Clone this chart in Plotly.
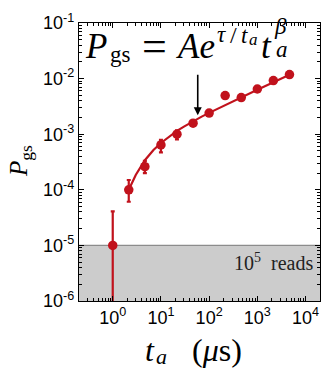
import plotly.graph_objects as go
import math

# measured data points
t_data = [1, 2.15, 4.64, 10, 21.5, 46.4, 100, 215, 464, 1000, 2150, 4640]
p_data = [1.0e-5, 1.0e-4, 2.6e-4, 6.4e-4, 1.0e-3, 1.58e-3, 2.4e-3, 4.95e-3, 4.55e-3, 6.5e-3, 9.2e-3, 1.18e-2]
err_plus = [3.1e-5, 5.0e-5, 7.0e-5, 1.5e-4, 1.7e-4, 1.5e-4, 2.2e-4, 4.5e-4, 4.2e-4, 6.0e-4, 8.5e-4, 1.1e-3]
err_minus = [0.9999e-5, 3.9e-5, 6.0e-5, 1.7e-4, 1.9e-4, 1.5e-4, 2.2e-4, 4.5e-4, 4.2e-4, 6.0e-4, 8.5e-4, 1.1e-3]

# fit curve
t_fit = [2.15, 3, 4.64, 7, 10, 15, 21.5, 30, 46, 70, 100, 200, 500, 1000, 2000, 4640]
p_fit = [1.0e-4, 1.85e-4, 3.4e-4, 5.2e-4, 6.95e-4, 9.2e-4, 1.15e-3, 1.37e-3, 1.70e-3,
         2.07e-3, 2.42e-3, 3.25e-3, 4.75e-3, 6.3e-3, 8.3e-3, 1.17e-2]

x_tickvals = [1, 10, 100, 1000, 10000]
x_ticktext = ["10<sup>0</sup>", "10<sup>1</sup>", "10<sup>2</sup>", "10<sup>3</sup>", "10<sup>4</sup>"]
y_tickvals = [1e-6, 1e-5, 1e-4, 1e-3, 1e-2, 1e-1]
y_ticktext = ["10<sup>-6</sup>", "10<sup>-5</sup>", "10<sup>-4</sup>", "10<sup>-3</sup>", "10<sup>-2</sup>", "10<sup>-1</sup>"]

threshold = 1e-5
red = "#c1121c"
serif = "Liberation Serif"

W, H = 324, 369
ML, MR, MT, MB = 79, 4, 23, 68
PW, PH = W - ML - MR, H - MT - MB

fig = go.Figure()
fig.add_trace(go.Scatter(x=t_fit, y=p_fit, mode="lines",
                         line=dict(color=red, width=2.2), showlegend=False))
fig.add_trace(go.Scatter(x=t_data, y=p_data, mode="markers",
                         marker=dict(color=red, size=9.5),
                         error_y=dict(type="data", symmetric=False, array=err_plus,
                                      arrayminus=err_minus, color=red, thickness=2.2, width=2),
                         showlegend=False))

fig.add_shape(type="rect", xref="paper", yref="y", x0=0, x1=1, y0=1e-7, y1=threshold,
              fillcolor="#cccccc", line=dict(width=0), layer="below")
fig.add_shape(type="line", xref="paper", yref="y", x0=0, x1=1, y0=threshold, y1=threshold,
              line=dict(color="#8c8c8c", width=1.2), layer="below")

axis_common = dict(type="log", showgrid=False, zeroline=False, showline=True,
                   linecolor="black", linewidth=1.2, mirror="allticks",
                   ticks="inside", ticklen=5, tickcolor="black",
                   tickfont=dict(family="Liberation Sans", size=18, color="black"),
                   minor=dict(ticks="inside", ticklen=2.5, tickcolor="black", dtick="D1", showgrid=False))

fig.update_xaxes(range=[-0.7, 4.3], tickvals=x_tickvals, ticktext=x_ticktext, **axis_common)
fig.update_yaxes(range=[-6, -1], tickvals=y_tickvals, ticktext=y_ticktext, **axis_common)

# arrow
fig.add_annotation(x=math.log10(58), y=-2.66, xref="x", yref="y", text="", showarrow=True,
                   ax=0, ay=-42, arrowhead=2, arrowsize=1, arrowwidth=1.6, arrowcolor="black")


def px_text(text, left, baseline, size, anchor="left", color="black", angle=0):
    """place a plain text so that its left edge / baseline land on given pixels"""
    cy = baseline - 0.3375 * size
    fig.add_annotation(xref="paper", yref="paper",
                       x=(left - ML) / PW, y=(H - MB - cy) / PH,
                       xanchor=anchor, yanchor="middle", text=text, showarrow=False,
                       borderpad=0, borderwidth=0, textangle=angle,
                       font=dict(family=serif, size=size, color=color))


# formula  P_gs = A e^{tau/t_a} t_a^beta
px_text("<i>P</i>", 85, 58, 35)
px_text("gs", 110, 62, 23)
px_text("=", 154.5, 61, 44, anchor="center")
px_text("<i>Ae</i>", 176, 58, 35)
px_text("<i>τ</i>", 217, 42, 23)
px_text("/", 230, 43, 24)
px_text("<i>t</i>", 241, 43, 23)
px_text("<i>a</i>", 249, 45, 17)
px_text("<i>t</i>", 261, 58, 35)
px_text("<i>β</i>", 274, 34, 23)
px_text("<i>a</i>", 276, 57, 23)

# 10^5 reads
fig.add_annotation(xref="paper", yref="y", x=(313 - ML) / PW, y=-5.29, xanchor="right", yanchor="middle",
                   text="10<sup>5</sup>  reads", showarrow=False, borderpad=0, borderwidth=0,
                   font=dict(family=serif, size=20, color="#222222"))

# x title
px_text("<i>t</i>", 145, 361, 32)
px_text("<i>a</i>", 156, 364, 22)
px_text("(<i>μ</i>s)", 192, 361, 32)

# y title
fig.add_annotation(xref="paper", yref="paper", x=(20 - ML) / PW, y=(H - MB - 161) / PH,
                   xanchor="center", yanchor="middle", textangle=-90,
                   text="<i>P</i><sub>gs</sub>", showarrow=False,
                   font=dict(family=serif, size=25, color="black"))

fig.update_layout(width=W, height=H, margin=dict(l=ML, r=MR, t=MT, b=MB),
                  paper_bgcolor="white", plot_bgcolor="white")

fig.write_html("out.html")
